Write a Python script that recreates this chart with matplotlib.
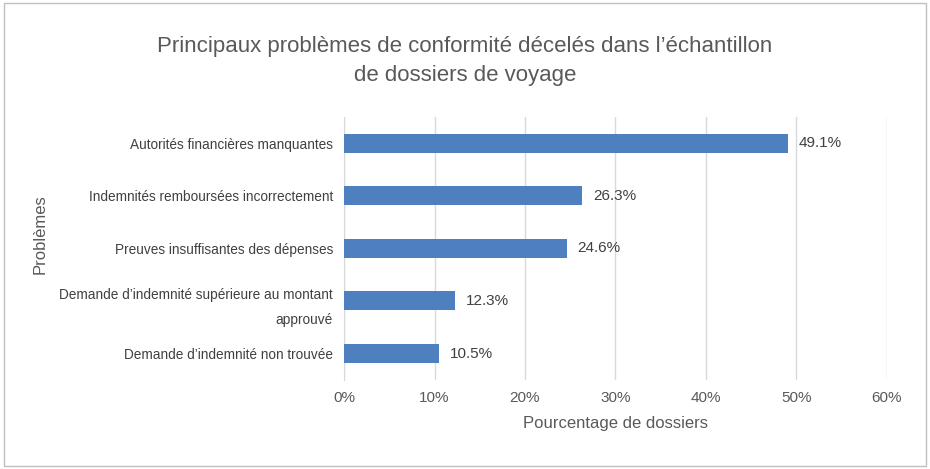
import matplotlib
matplotlib.use("Agg")
import matplotlib.pyplot as plt
from matplotlib.patches import Rectangle

categories = ["Autorités financières manquantes",
              "Indemnités remboursées incorrectement",
              "Preuves insuffisantes des dépenses",
              "Demande d’indemnité supérieure au montant\napprouvé",
              "Demande d’indemnité non trouvée"]
values = [49.1, 26.3, 24.6, 12.3, 10.5]
xticks = [0, 10, 20, 30, 40, 50, 60]

fig = plt.figure(figsize=(9.3, 4.69), dpi=100)
fig.patches.append(Rectangle((0.004, 0.006), 0.992, 0.988, transform=fig.transFigure,
                             fill=False, edgecolor="#bfbfbf", linewidth=1))
ax = fig.add_axes([0.370, 0.190, 0.584, 0.561])
y = list(range(len(categories)))
ax.barh(y, values, height=0.36, color="#4e7fbf", zorder=3)
for yi, v in zip(y, values):
    ax.text(v + 1.2, yi, f"{v:.1f}%", va="center", ha="left", fontsize=11,
            color="#404040", family="Liberation Sans")
ax.set_xlim(0, 60.05)
ax.set_ylim(len(categories) - 0.5, -0.5)
ax.set_xticks(xticks)
ax.set_xticklabels([f"{t}%" for t in xticks], fontsize=11, color="#595959", family="Liberation Sans")
ax.set_yticks(y)
ax.set_yticklabels(categories, fontsize=9.8, color="#404040", family="Liberation Sans", linespacing=2.0)
ax.grid(axis="x", color="#d9d9d9", linewidth=1, zorder=0)
for s in ["top", "right", "bottom"]:
    ax.spines[s].set_visible(False)
ax.spines["left"].set_color("#d9d9d9")
ax.tick_params(length=0, pad=8)
ax.set_xlabel("Pourcentage de dossiers", fontsize=12, color="#595959", family="Liberation Sans", labelpad=8)
fig.text(0.043, 0.50, "Problèmes", rotation=90, ha="center", va="center",
         fontsize=12, color="#595959", family="Liberation Sans")
fig.text(0.5, 0.87, "Principaux problèmes de conformité décelés dans l’échantillon\nde dossiers de voyage",
         ha="center", va="center", fontsize=16, color="#595959", family="Liberation Sans", linespacing=1.45)
fig.savefig("out.png", dpi=100)
